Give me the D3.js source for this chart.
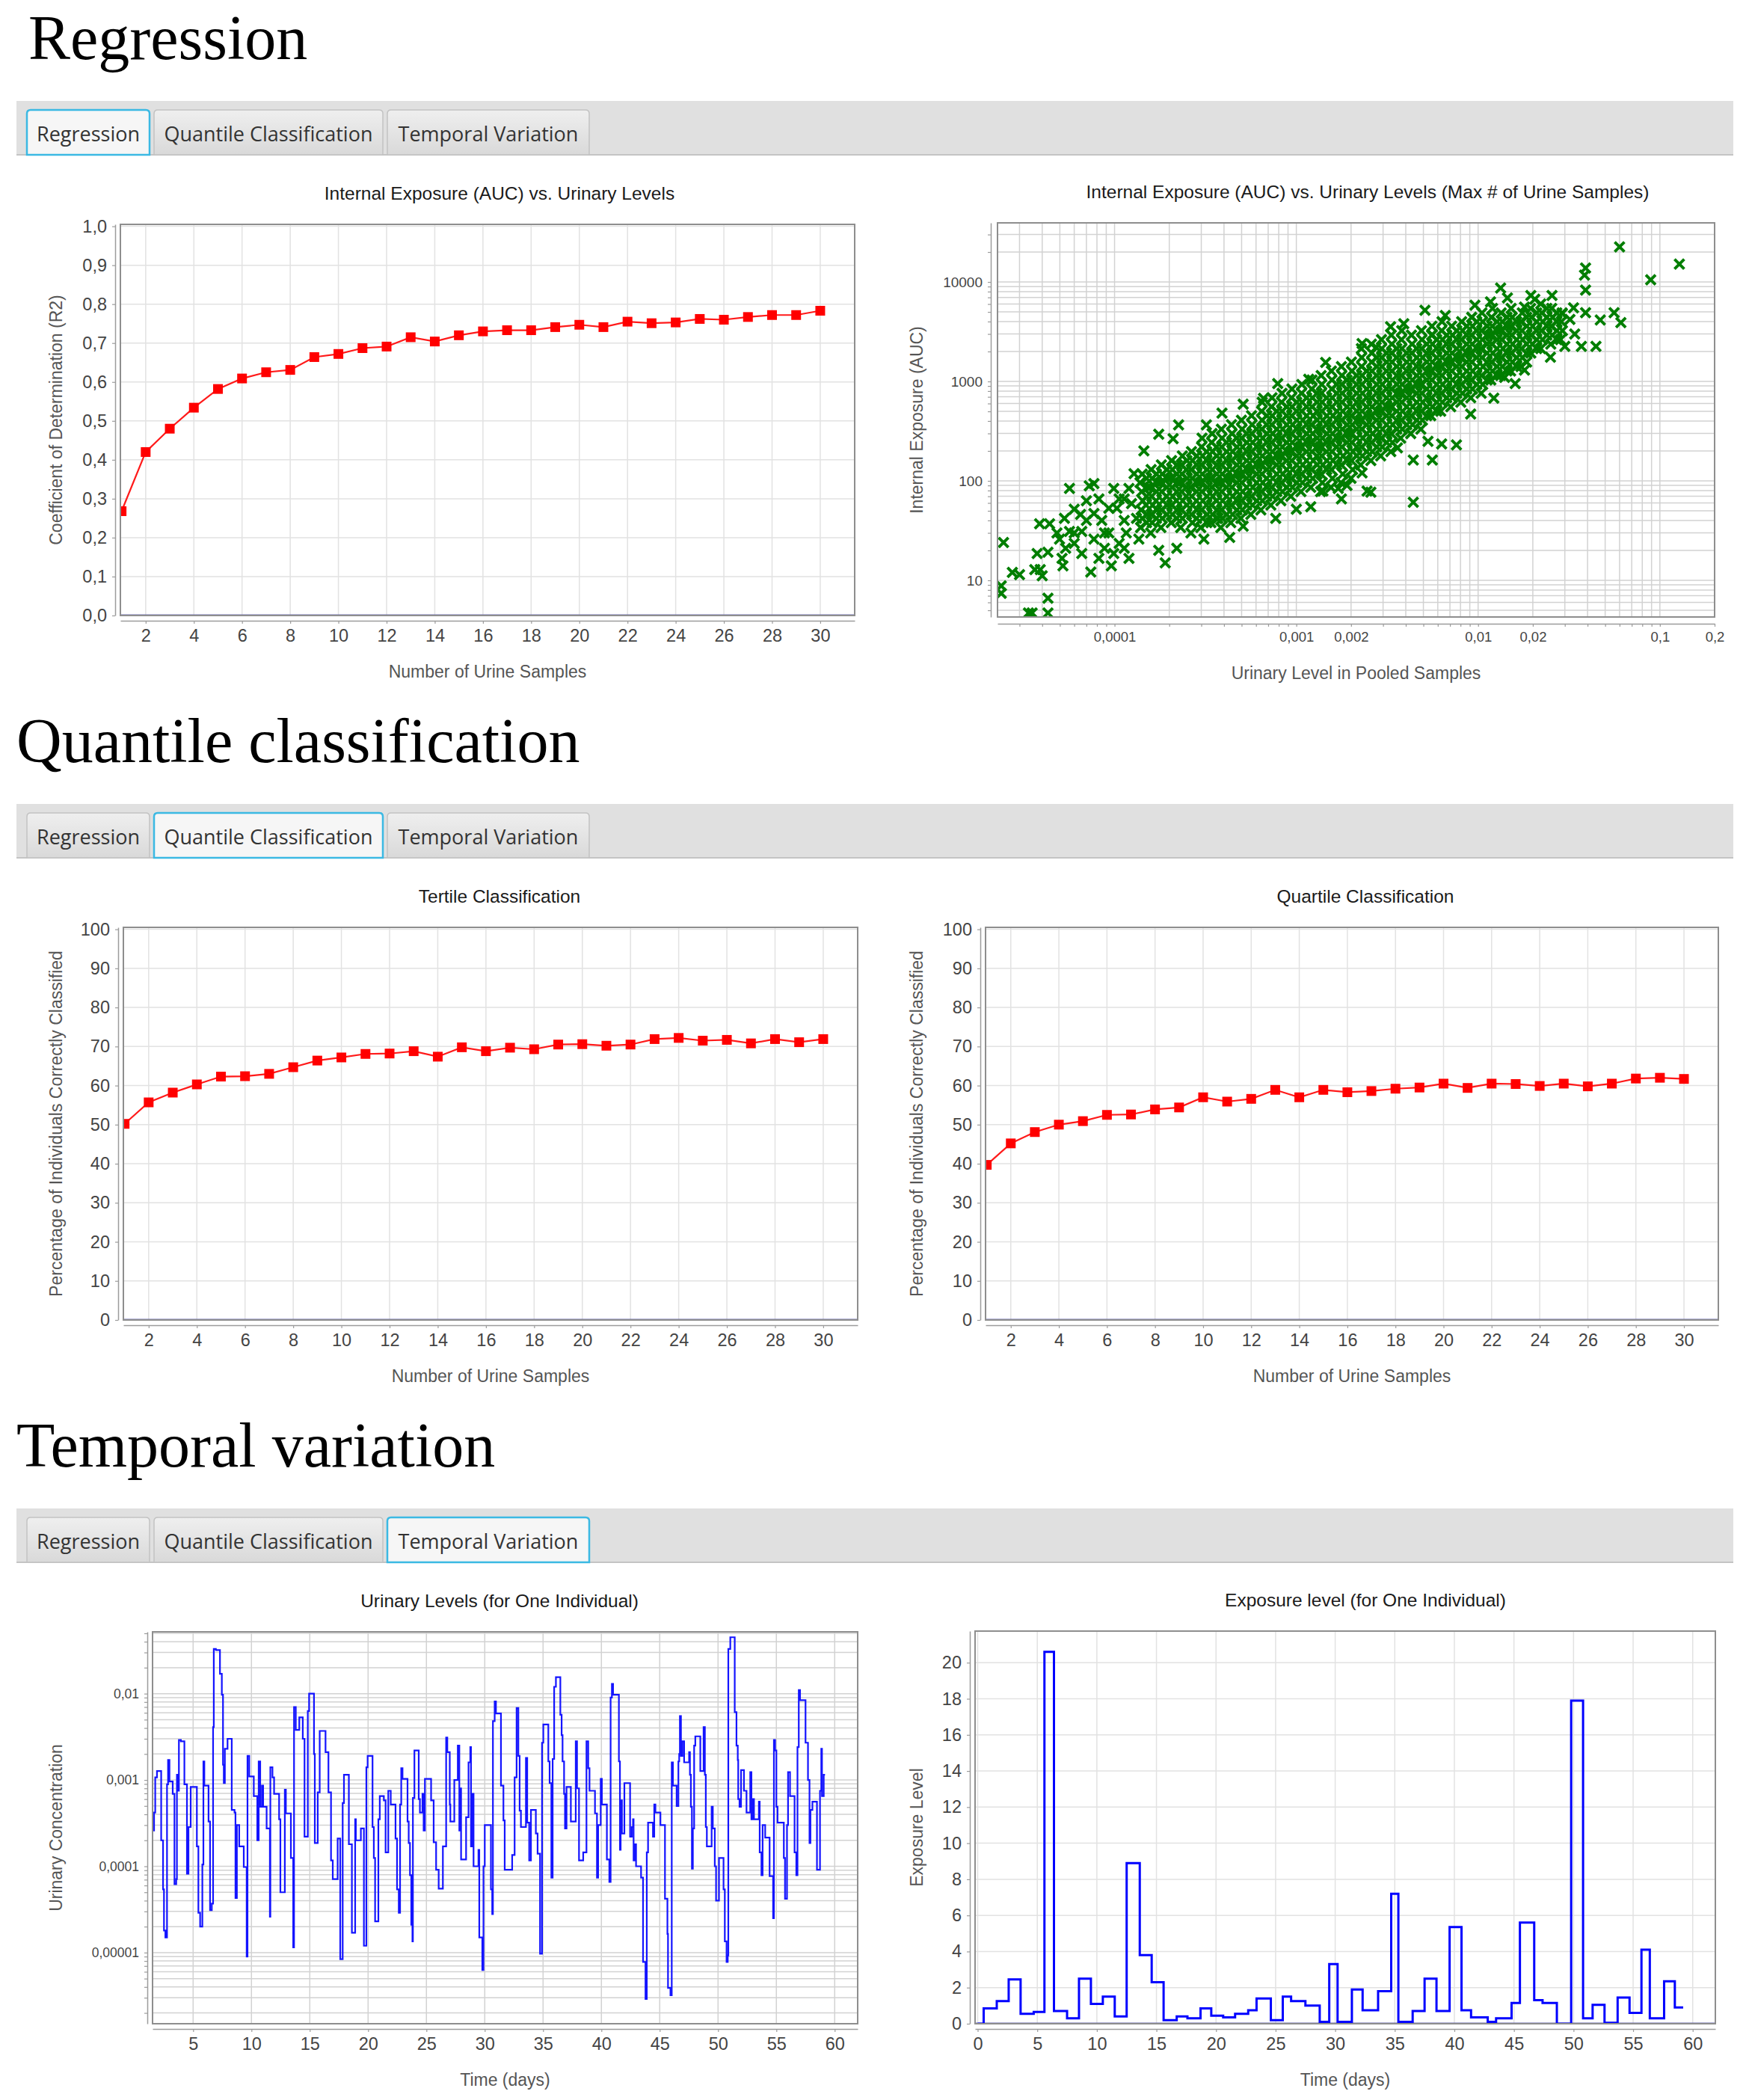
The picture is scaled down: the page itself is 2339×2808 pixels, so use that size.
<!DOCTYPE html>
<html>
<head>
<meta charset="utf-8">
<script src="https://cdn.jsdelivr.net/npm/d3@7"></script>
<style>
  body { margin: 0; background: #fff; }
  svg text { font-family: "Liberation Sans", Arial, sans-serif; }
</style>
</head>
<body>
<svg id="fig" width="2339" height="2808"></svg>
<script>
// ---------------- data ----------------
const sampleCounts = [1, 2, 3, 4, 5, 6, 7, 8, 9, 10, 11, 12, 13, 14, 15,
  16, 17, 18, 19, 20, 21, 22, 23, 24, 25, 26, 27, 28, 29, 30];

const r2Values = [0.268, 0.42, 0.48, 0.534, 0.582, 0.609, 0.625, 0.631, 0.664, 0.672,
  0.687, 0.691, 0.715, 0.704, 0.72, 0.73, 0.733, 0.733, 0.741, 0.747,
  0.741, 0.755, 0.751, 0.753, 0.762, 0.76, 0.767, 0.772, 0.772, 0.783];

const tertileValues = [50.2, 55.7, 58.2, 60.3, 62.3, 62.4, 63.0, 64.7, 66.4, 67.2,
  68.1, 68.2, 68.8, 67.4, 69.8, 68.8, 69.7, 69.3, 70.5, 70.6,
  70.2, 70.5, 71.9, 72.2, 71.5, 71.7, 70.8, 71.9, 71.1, 71.9];

const quartileValues = [39.7, 45.2, 48.1, 50.0, 50.9, 52.5, 52.6, 53.9, 54.4, 57.0,
  55.9, 56.6, 58.9, 57.0, 58.9, 58.3, 58.6, 59.2, 59.5, 60.5,
  59.4, 60.5, 60.4, 59.9, 60.5, 59.8, 60.5, 61.8, 62.0, 61.7];

// [urinary level in pooled samples, internal exposure (AUC)]
const scatterPoints = [
  // sparse lower-left tail
  [2.45e-5,24],[2.38e-5,8.8],[2.38e-5,7.4],[2.74e-5,12],[3.0e-5,11.4],[3.36e-5,4.7],[3.52e-5,4.7],
  [4.3e-5,4.7],[4.3e-5,6.6],[3.64e-5,12.8],[4.0e-5,11.1],[3.9e-5,12.8],[3.87e-5,37],[4.39e-5,37],
  [3.75e-5,18.6],[4.3e-5,19.2],[4.98e-5,26],[5.3e-5,42],[4.82e-5,30],[5.38e-5,21],[5.65e-5,31],
  [6.0e-5,23.5],[5.14e-5,16.6],[5.2e-5,14],[5.65e-5,84],[6.5e-5,46],[6.0e-5,30],[6.6e-5,18.6],
  [7.4e-5,12.1],[7.26e-5,89],[7.7e-5,94],[7.0e-5,63],[7.7e-5,47],[8.2e-5,66],[8.5e-5,40],
  [8.8e-5,21],[8.2e-5,16.6],[9.6e-5,14],[9.3e-5,30],[1.03e-4,53],[9.9e-5,84],[1.06e-4,66],
  [1.13e-4,40],[1.06e-4,23.5],[1.2e-4,16.6],[1.16e-4,30],[1.28e-4,118],[1.24e-4,59],[1.32e-4,42],
  [1.36e-4,26],[9.9e-5,18.6],[1.2e-4,84],[8.8e-5,30],[7.0e-5,40],[6.0e-5,52],[9.3e-5,53],
  [7.7e-5,26],[6.6e-5,31],[1.13e-4,66],[1.13e-4,21],
  // dense band
  [1.39e-4,34],[1.42e-4,42],[1.40e-4,51],[1.43e-4,63],[1.41e-4,78],[1.38e-4,96],[1.42e-4,117],
  [1.58e-4,30],[1.61e-4,38],[1.59e-4,46],[1.62e-4,57],[1.60e-4,70],[1.57e-4,86],[1.61e-4,106],[1.59e-4,130],
  [1.80e-4,34],[1.83e-4,42],[1.81e-4,51],[1.84e-4,63],[1.82e-4,78],[1.79e-4,96],[1.83e-4,117],[1.81e-4,145],
  [2.05e-4,38],[2.08e-4,46],[2.06e-4,57],[2.09e-4,70],[2.07e-4,86],[2.04e-4,106],[2.08e-4,130],[2.06e-4,160],
  [2.31e-4,34],[2.36e-4,42],[2.33e-4,51],[2.37e-4,63],[2.34e-4,78],[2.30e-4,96],[2.35e-4,117],[2.33e-4,145],[2.36e-4,178],
  [2.63e-4,30],[2.68e-4,38],[2.65e-4,46],[2.69e-4,57],[2.66e-4,70],[2.62e-4,86],[2.67e-4,106],[2.64e-4,130],[2.68e-4,160],[2.65e-4,197],
  [2.98e-4,34],[3.05e-4,42],[3.01e-4,51],[3.06e-4,63],[3.02e-4,78],[2.97e-4,96],[3.04e-4,117],[3.00e-4,145],[3.05e-4,178],[3.01e-4,219],[3.03e-4,269],
  [3.39e-4,38],[3.46e-4,46],[3.41e-4,57],[3.47e-4,70],[3.43e-4,86],[3.38e-4,106],[3.45e-4,130],[3.41e-4,160],[3.46e-4,197],[3.42e-4,243],[3.44e-4,299],
  [3.84e-4,34],[3.92e-4,42],[3.87e-4,51],[3.93e-4,63],[3.89e-4,78],[3.83e-4,96],[3.91e-4,117],[3.86e-4,145],[3.92e-4,178],[3.88e-4,219],[3.90e-4,269],[3.87e-4,331],
  [4.36e-4,38],[4.46e-4,46],[4.39e-4,57],[4.47e-4,70],[4.42e-4,86],[4.35e-4,106],[4.45e-4,130],[4.39e-4,160],[4.46e-4,197],[4.41e-4,243],[4.43e-4,299],[4.40e-4,367],
  [4.95e-4,42],[5.05e-4,51],[4.98e-4,63],[5.07e-4,78],[5.01e-4,96],[4.94e-4,117],[5.04e-4,145],[4.98e-4,178],[5.06e-4,219],[5.00e-4,269],[5.03e-4,331],[4.99e-4,407],
  [5.62e-4,46],[5.74e-4,57],[5.66e-4,70],[5.76e-4,86],[5.69e-4,106],[5.61e-4,130],[5.73e-4,160],[5.66e-4,197],[5.75e-4,243],[5.68e-4,299],[5.71e-4,367],[5.67e-4,452],
  [6.38e-4,51],[6.51e-4,63],[6.42e-4,78],[6.54e-4,96],[6.46e-4,117],[6.37e-4,145],[6.50e-4,178],[6.43e-4,219],[6.53e-4,269],[6.45e-4,331],[6.48e-4,407],[6.44e-4,501],[6.49e-4,617],
  [7.24e-4,57],[7.39e-4,70],[7.29e-4,86],[7.42e-4,106],[7.33e-4,130],[7.23e-4,160],[7.38e-4,197],[7.29e-4,243],[7.41e-4,299],[7.32e-4,367],[7.36e-4,452],[7.30e-4,556],[7.35e-4,684],
  [8.22e-4,63],[8.39e-4,78],[8.27e-4,96],[8.42e-4,117],[8.32e-4,145],[8.20e-4,178],[8.38e-4,219],[8.27e-4,269],[8.41e-4,331],[8.31e-4,407],[8.35e-4,501],[8.29e-4,617],[8.34e-4,759],
  [9.32e-4,70],[9.52e-4,86],[9.38e-4,106],[9.55e-4,130],[9.44e-4,160],[9.31e-4,197],[9.50e-4,243],[9.39e-4,299],[9.54e-4,367],[9.43e-4,452],[9.47e-4,556],[9.41e-4,684],[9.46e-4,841],
  [1.06e-3,78],[1.08e-3,96],[1.065e-3,117],[1.085e-3,145],[1.07e-3,178],[1.055e-3,219],[1.08e-3,269],[1.065e-3,331],[1.085e-3,407],[1.07e-3,501],[1.075e-3,617],[1.068e-3,759],[1.072e-3,933],
  [1.20e-3,86],[1.23e-3,106],[1.21e-3,130],[1.24e-3,160],[1.22e-3,197],[1.20e-3,243],[1.23e-3,299],[1.21e-3,367],[1.24e-3,452],[1.22e-3,556],[1.225e-3,684],[1.215e-3,841],[1.22e-3,1035],
  [1.36e-3,78],[1.39e-3,96],[1.37e-3,117],[1.40e-3,145],[1.38e-3,178],[1.36e-3,219],[1.39e-3,269],[1.37e-3,331],[1.40e-3,407],[1.38e-3,501],[1.385e-3,617],[1.375e-3,759],[1.38e-3,933],[1.37e-3,1148],
  [1.55e-3,86],[1.58e-3,106],[1.56e-3,130],[1.59e-3,160],[1.57e-3,197],[1.55e-3,243],[1.58e-3,299],[1.56e-3,367],[1.59e-3,452],[1.57e-3,556],[1.575e-3,684],[1.565e-3,841],[1.57e-3,1035],[1.56e-3,1274],
  [1.76e-3,96],[1.80e-3,117],[1.77e-3,145],[1.81e-3,178],[1.78e-3,219],[1.76e-3,269],[1.79e-3,331],[1.77e-3,407],[1.80e-3,501],[1.78e-3,617],[1.785e-3,759],[1.775e-3,933],[1.78e-3,1148],[1.77e-3,1413],
  [2.00e-3,106],[2.04e-3,130],[2.01e-3,160],[2.05e-3,197],[2.02e-3,243],[1.99e-3,299],[2.03e-3,367],[2.01e-3,452],[2.04e-3,556],[2.02e-3,684],[2.025e-3,841],[2.015e-3,1035],[2.02e-3,1274],[2.01e-3,1567],
  [2.26e-3,145],[2.31e-3,178],[2.28e-3,219],[2.32e-3,269],[2.29e-3,331],[2.26e-3,407],[2.30e-3,501],[2.28e-3,617],[2.31e-3,759],[2.29e-3,933],[2.295e-3,1148],[2.285e-3,1413],[2.29e-3,1738],[2.28e-3,2138],
  [2.57e-3,160],[2.62e-3,197],[2.59e-3,243],[2.63e-3,299],[2.60e-3,367],[2.57e-3,452],[2.61e-3,556],[2.59e-3,684],[2.62e-3,841],[2.60e-3,1035],[2.605e-3,1274],[2.595e-3,1567],[2.60e-3,1928],[2.59e-3,2371],
  [2.91e-3,178],[2.97e-3,219],[2.93e-3,269],[2.98e-3,331],[2.95e-3,407],[2.91e-3,501],[2.96e-3,617],[2.94e-3,759],[2.97e-3,933],[2.95e-3,1148],[2.955e-3,1413],[2.945e-3,1738],[2.95e-3,2138],[2.94e-3,2630],
  [3.31e-3,197],[3.38e-3,243],[3.33e-3,299],[3.39e-3,367],[3.35e-3,452],[3.30e-3,556],[3.37e-3,684],[3.34e-3,841],[3.38e-3,1035],[3.35e-3,1274],[3.36e-3,1567],[3.34e-3,1928],[3.35e-3,2371],[3.33e-3,2917],
  [3.75e-3,269],[3.83e-3,331],[3.78e-3,407],[3.84e-3,501],[3.80e-3,617],[3.74e-3,759],[3.82e-3,933],[3.78e-3,1148],[3.83e-3,1413],[3.80e-3,1738],[3.81e-3,2138],[3.79e-3,2630],[3.80e-3,3236],
  [4.26e-3,299],[4.36e-3,367],[4.29e-3,452],[4.37e-3,556],[4.32e-3,684],[4.25e-3,841],[4.35e-3,1035],[4.30e-3,1274],[4.36e-3,1567],[4.31e-3,1928],[4.33e-3,2371],[4.30e-3,2917],
  [4.84e-3,331],[4.94e-3,407],[4.87e-3,501],[4.96e-3,617],[4.90e-3,759],[4.83e-3,933],[4.93e-3,1148],[4.88e-3,1413],[4.95e-3,1738],[4.89e-3,2138],[4.91e-3,2630],[4.88e-3,3236],
  [5.49e-3,452],[5.61e-3,556],[5.53e-3,684],[5.62e-3,841],[5.56e-3,1035],[5.48e-3,1274],[5.60e-3,1567],[5.53e-3,1928],[5.61e-3,2371],[5.55e-3,2917],[5.57e-3,3589],
  [6.23e-3,501],[6.36e-3,617],[6.27e-3,759],[6.38e-3,933],[6.31e-3,1148],[6.22e-3,1413],[6.35e-3,1738],[6.28e-3,2138],[6.37e-3,2630],[6.30e-3,3236],[6.33e-3,3981],
  [7.07e-3,556],[7.22e-3,684],[7.12e-3,841],[7.24e-3,1035],[7.16e-3,1274],[7.05e-3,1567],[7.20e-3,1928],[7.12e-3,2371],[7.23e-3,2917],[7.15e-3,3589],
  [8.03e-3,617],[8.20e-3,759],[8.08e-3,933],[8.22e-3,1148],[8.13e-3,1413],[8.01e-3,1738],[8.18e-3,2138],[8.09e-3,2630],[8.21e-3,3236],[8.12e-3,3981],
  [9.11e-3,684],[9.31e-3,841],[9.17e-3,1035],[9.34e-3,1274],[9.23e-3,1567],[9.10e-3,1928],[9.29e-3,2371],[9.18e-3,2917],[9.32e-3,3589],[9.22e-3,4416],
  [1.04e-2,759],[1.06e-2,933],[1.045e-2,1148],[1.065e-2,1413],[1.05e-2,1738],[1.035e-2,2138],[1.055e-2,2630],[1.045e-2,3236],[1.06e-2,3981],[1.05e-2,4898],
  [1.175e-2,1035],[1.20e-2,1274],[1.185e-2,1567],[1.205e-2,1928],[1.19e-2,2371],[1.17e-2,2917],[1.195e-2,3589],[1.185e-2,4416],[1.20e-2,5433],
  [1.33e-2,1148],[1.36e-2,1413],[1.34e-2,1738],[1.37e-2,2138],[1.35e-2,2630],[1.33e-2,3236],[1.36e-2,3981],[1.34e-2,4898],
  [1.51e-2,1274],[1.545e-2,1567],[1.52e-2,1928],[1.55e-2,2371],[1.53e-2,2917],[1.51e-2,3589],[1.54e-2,4416],[1.52e-2,5433],
  [1.72e-2,1413],[1.755e-2,1738],[1.73e-2,2138],[1.76e-2,2630],[1.74e-2,3236],[1.72e-2,3981],[1.75e-2,4898],
  [1.95e-2,1928],[1.99e-2,2371],[1.96e-2,2917],[1.995e-2,3589],[1.97e-2,4416],[1.945e-2,5433],
  [2.21e-2,2138],[2.26e-2,2630],[2.23e-2,3236],[2.27e-2,3981],[2.24e-2,4898],[2.21e-2,6026],
  [2.51e-2,2371],[2.56e-2,2917],[2.53e-2,3589],[2.57e-2,4416],[2.54e-2,5433],
  [2.84e-2,2630],[2.91e-2,3236],[2.87e-2,3981],[2.90e-2,4898],
  // scattered points around the band
  [1.45e-4,200],[1.75e-4,295],[2.25e-4,365],[2.1e-4,265],[3.2e-4,365],[3.9e-4,480],[5.1e-4,590],
  [6.6e-4,675],[7.9e-4,950],[1.17e-3,1050],[1.45e-3,1550],
  [1.9e-4,15],[2.2e-4,21],[1.75e-4,20],[3.1e-4,26],[4.3e-4,27],[3.7e-4,42],[5.1e-4,35],[7.7e-4,42],
  [1.0e-3,52],[1.2e-3,55],[1.77e-3,66],[2.45e-3,79],[1.7e-3,84],[1.4e-3,79],
  [2.3e-3,2400],[2.75e-3,2200],[3.3e-3,3550],[3.9e-3,3800],[5.1e-3,5200],[5.6e-3,2950],[6.6e-3,4600],
  [9.6e-3,5850],[1.17e-2,6300],[1.33e-2,8700],[1.45e-2,6900],[1.95e-2,7300],[2.05e-2,6700],[2.55e-2,7300],
  [1.8e-2,5600],[2.9e-2,4800],[3.2e-2,4200],[3.35e-2,5500],[3.4e-2,3000],[3.9e-2,4900],[4.7e-2,4150],
  [5.6e-2,4900],[6.1e-2,3900],[3.0e-2,2250],[3.7e-2,2250],[4.45e-2,2250],[2.5e-2,1750],
  [3.9e-2,13800],[3.85e-2,11700],[3.9e-2,8300],[6.0e-2,22500],[0.128,15100],[0.089,10500],
  [7.6e-3,230],[6.3e-3,235],[5.6e-3,162],[4.4e-3,162],[4.4e-3,61],[2.57e-3,77],[9.1e-3,470],
  [1.22e-2,680],[1.6e-2,950],[1.4e-2,1100],[1.8e-2,1300],[5.3e-3,250],[3.6e-3,215],[2.3e-3,120],[1.9e-3,90]
];

// extra points inside the solid core of the cloud
const scatterCorePoints = [
  [1.50e-4,38],[1.51e-4,46],[1.49e-4,57],[1.50e-4,70],[1.52e-4,86],[1.50e-4,106],
  [1.70e-4,42],[1.71e-4,51],[1.69e-4,63],[1.70e-4,78],[1.72e-4,96],[1.70e-4,117],
  [1.94e-4,46],[1.95e-4,57],[1.93e-4,70],[1.94e-4,86],[1.96e-4,106],[1.94e-4,130],
  [2.20e-4,42],[2.21e-4,51],[2.19e-4,63],[2.20e-4,78],[2.22e-4,96],[2.20e-4,117],[2.21e-4,145],
  [2.49e-4,46],[2.50e-4,57],[2.48e-4,70],[2.49e-4,86],[2.51e-4,106],[2.49e-4,130],[2.50e-4,160],
  [2.83e-4,42],[2.84e-4,51],[2.82e-4,63],[2.83e-4,78],[2.85e-4,96],[2.83e-4,117],[2.84e-4,145],[2.83e-4,178],
  [3.22e-4,38],[3.23e-4,46],[3.21e-4,57],[3.22e-4,70],[3.24e-4,86],[3.22e-4,106],[3.23e-4,130],[3.22e-4,160],[3.21e-4,197],
  [3.65e-4,42],[3.66e-4,51],[3.64e-4,63],[3.65e-4,78],[3.67e-4,96],[3.65e-4,117],[3.66e-4,145],[3.65e-4,178],[3.64e-4,219],
  [4.14e-4,46],[4.15e-4,57],[4.13e-4,70],[4.14e-4,86],[4.16e-4,106],[4.14e-4,130],[4.15e-4,160],[4.14e-4,197],[4.13e-4,243],
  [4.71e-4,51],[4.72e-4,63],[4.70e-4,78],[4.71e-4,96],[4.73e-4,117],[4.71e-4,145],[4.72e-4,178],[4.71e-4,219],[4.70e-4,269],
  [5.34e-4,57],[5.35e-4,70],[5.33e-4,86],[5.34e-4,106],[5.36e-4,130],[5.34e-4,160],[5.35e-4,197],[5.34e-4,243],[5.33e-4,299],
  [6.06e-4,63],[6.07e-4,78],[6.05e-4,96],[6.06e-4,117],[6.08e-4,145],[6.06e-4,178],[6.07e-4,219],[6.06e-4,269],[6.05e-4,331],
  [6.88e-4,70],[6.89e-4,86],[6.87e-4,106],[6.88e-4,130],[6.90e-4,160],[6.88e-4,197],[6.89e-4,243],[6.88e-4,299],[6.87e-4,367],[6.88e-4,452],
  [7.81e-4,78],[7.82e-4,96],[7.80e-4,117],[7.81e-4,145],[7.83e-4,178],[7.81e-4,219],[7.82e-4,269],[7.81e-4,331],[7.80e-4,407],[7.81e-4,501],
  [8.86e-4,86],[8.87e-4,106],[8.85e-4,130],[8.86e-4,160],[8.88e-4,197],[8.86e-4,243],[8.87e-4,299],[8.86e-4,367],[8.85e-4,452],[8.86e-4,556],
  [1.005e-3,96],[1.006e-3,117],[1.004e-3,145],[1.005e-3,178],[1.007e-3,219],[1.005e-3,269],[1.006e-3,331],[1.005e-3,407],[1.004e-3,501],[1.005e-3,617],
  [1.14e-3,106],[1.142e-3,130],[1.138e-3,160],[1.14e-3,197],[1.143e-3,243],[1.14e-3,299],[1.141e-3,367],[1.14e-3,452],[1.139e-3,556],[1.14e-3,684],
  [1.30e-3,117],[1.302e-3,145],[1.298e-3,178],[1.30e-3,219],[1.303e-3,269],[1.30e-3,331],[1.301e-3,407],[1.30e-3,501],[1.299e-3,617],[1.30e-3,759],
  [1.47e-3,130],[1.472e-3,160],[1.468e-3,197],[1.47e-3,243],[1.473e-3,299],[1.47e-3,367],[1.471e-3,452],[1.47e-3,556],[1.469e-3,684],
  [1.67e-3,145],[1.672e-3,178],[1.668e-3,219],[1.67e-3,269],[1.673e-3,331],[1.67e-3,407],[1.671e-3,501],[1.67e-3,617],[1.669e-3,759],[1.67e-3,933],
  [1.90e-3,160],[1.902e-3,197],[1.898e-3,243],[1.90e-3,299],[1.903e-3,367],[1.90e-3,452],[1.901e-3,556],[1.90e-3,684],[1.899e-3,841],[1.90e-3,1035],
  [2.15e-3,178],[2.152e-3,219],[2.148e-3,269],[2.15e-3,331],[2.153e-3,407],[2.15e-3,501],[2.151e-3,617],[2.15e-3,759],[2.149e-3,933],[2.15e-3,1148],
  [2.44e-3,197],[2.442e-3,243],[2.438e-3,299],[2.44e-3,367],[2.443e-3,452],[2.44e-3,556],[2.441e-3,684],[2.44e-3,841],[2.439e-3,1035],[2.44e-3,1274],
  [2.77e-3,219],[2.772e-3,269],[2.768e-3,331],[2.77e-3,407],[2.773e-3,501],[2.77e-3,617],[2.771e-3,759],[2.77e-3,933],[2.769e-3,1148],[2.77e-3,1413],[2.77e-3,1738],
  [3.14e-3,243],[3.142e-3,299],[3.138e-3,367],[3.14e-3,452],[3.143e-3,556],[3.14e-3,684],[3.141e-3,841],[3.14e-3,1035],[3.139e-3,1274],[3.14e-3,1567],[3.14e-3,1928],
  [3.57e-3,331],[3.572e-3,407],[3.568e-3,501],[3.57e-3,617],[3.573e-3,759],[3.57e-3,933],[3.571e-3,1148],[3.57e-3,1413],[3.569e-3,1738],[3.57e-3,2138],
  [4.05e-3,367],[4.052e-3,452],[4.048e-3,556],[4.05e-3,684],[4.053e-3,841],[4.05e-3,1035],[4.051e-3,1274],[4.05e-3,1567],[4.049e-3,1928],
  [4.60e-3,407],[4.602e-3,501],[4.598e-3,617],[4.60e-3,759],[4.603e-3,933],[4.60e-3,1148],[4.601e-3,1413],[4.60e-3,1738],[4.599e-3,2138],
  [5.22e-3,452],[5.222e-3,556],[5.218e-3,684],[5.22e-3,841],[5.223e-3,1035],[5.22e-3,1274],[5.221e-3,1567],[5.22e-3,1928],[5.219e-3,2371],
  [5.92e-3,501],[5.922e-3,617],[5.918e-3,759],[5.92e-3,933],[5.923e-3,1148],[5.92e-3,1413],[5.921e-3,1738],[5.92e-3,2138],[5.919e-3,2630],
  [6.72e-3,684],[6.722e-3,841],[6.718e-3,1035],[6.72e-3,1274],[6.723e-3,1567],[6.72e-3,1928],[6.721e-3,2371],[6.72e-3,2917],
  [7.63e-3,759],[7.632e-3,933],[7.628e-3,1148],[7.63e-3,1413],[7.633e-3,1738],[7.63e-3,2138],[7.631e-3,2630],[7.63e-3,3236],
  [8.66e-3,841],[8.662e-3,1035],[8.658e-3,1274],[8.66e-3,1567],[8.663e-3,1928],[8.66e-3,2371],[8.661e-3,2917],[8.66e-3,3589],
  [9.83e-3,933],[9.832e-3,1148],[9.828e-3,1413],[9.83e-3,1738],[9.833e-3,2138],[9.83e-3,2630],[9.831e-3,3236],[9.83e-3,3981],
  [1.12e-2,1035],[1.121e-2,1274],[1.119e-2,1567],[1.12e-2,1928],[1.122e-2,2371],[1.12e-2,2917],[1.121e-2,3589],
  [1.27e-2,1148],[1.271e-2,1413],[1.269e-2,1738],[1.27e-2,2138],[1.272e-2,2630],[1.27e-2,3236],[1.271e-2,3981],
  [1.44e-2,1274],[1.441e-2,1567],[1.439e-2,1928],[1.44e-2,2371],[1.442e-2,2917],[1.44e-2,3589],[1.441e-2,4416],
  [1.63e-2,1413],[1.631e-2,1738],[1.629e-2,2138],[1.63e-2,2630],[1.632e-2,3236],[1.63e-2,3981],
  [1.85e-2,1567],[1.851e-2,1928],[1.849e-2,2371],[1.85e-2,2917],[1.852e-2,3589],[1.85e-2,4416],
  [2.10e-2,2138],[2.101e-2,2630],[2.099e-2,3236],[2.10e-2,3981],[2.102e-2,4898],
  [2.39e-2,2917],[2.391e-2,3589],[2.389e-2,4416],[2.39e-2,5433],
  [2.71e-2,2630],[2.711e-2,3236],[2.709e-2,3981],[2.71e-2,4898]
];

// [time (days), urinary concentration], step line
const urineSamples = [
  [1.58,2.6e-4],[1.65,4.2e-4],[1.75,1.07e-3],[1.90,1.27e-3],[2.26,2.0e-4],[2.42,5.4e-5],[2.50,1.8e-5],
  [2.62,1.5e-5],[2.76,8.9e-4],[2.85,1.7e-3],[2.97,9.6e-4],[3.25,6.9e-4],[3.40,6.2e-5],[3.55,7.1e-5],
  [3.61,1.15e-3],[3.70,7.5e-4],[3.78,2.9e-3],[3.95,2.8e-3],[4.25,8.9e-4],[4.47,8.2e-5],[4.60,2.85e-4],
  [4.79,8.3e-4],[5.32,1.7e-4],[5.45,2.9e-5],[5.60,2.0e-5],[5.79,1.05e-4],[5.88,1.64e-3],[5.96,8.6e-4],
  [6.32,3.3e-4],[6.45,3.1e-5],[6.60,3.7e-5],[6.71,4.1e-3],[6.77,3.3e-2],[6.95,3.2e-2],[7.30,1.7e-2],
  [7.46,9.7e-3],[7.56,1.5e-3],[7.63,9.2e-4],[7.72,2.3e-3],[7.95,3.0e-3],[8.31,4.5e-4],[8.55,4.2e-4],
  [8.63,4.3e-5],[8.75,3.0e-4],[8.95,1.7e-4],[9.34,9.8e-5],[9.59,9.0e-6],[9.66,1.9e-3],[9.81,1.1e-3],
  [10.2,6.5e-4],[10.5,2.0e-4],[10.62,1.64e-3],[10.75,4.9e-4],[10.9,8.6e-4],[11.0,4.9e-4],[11.30,2.75e-4],
  [11.58,2.6e-5],[11.62,1.4e-3],[11.8,1.07e-3],[11.94,6.9e-4],[12.37,3.5e-4],[12.48,5.0e-5],[12.86,7.7e-4],
  [12.95,4.1e-4],[13.38,1.25e-4],[13.58,1.15e-5],[13.65,7.0e-3],[13.80,3.8e-3],[14.1,5.3e-3],[14.40,3.0e-3],
  [14.55,2.2e-4],[14.83,6.3e-3],[14.94,1.0e-2],[15.36,2.0e-3],[15.43,1.86e-4],[15.68,7.2e-4],[15.85,3.7e-3],
  [16.35,2.1e-3],[16.60,7.2e-4],[16.82,1.17e-4],[16.97,7.1e-5],[17.39,2.1e-4],[17.61,8.4e-6],[17.82,5.4e-4],
  [17.93,1.15e-3],[18.35,1.8e-4],[18.61,1.7e-5],[18.89,3.5e-4],[18.95,2.0e-4],[19.38,2.75e-4],[19.64,1.2e-5],
  [19.85,1.4e-3],[19.96,1.9e-3],[20.38,2.85e-4],[20.49,1.25e-4],[20.60,2.3e-5],[20.88,3.5e-4],[21.0,6.5e-4],
  [21.35,5.8e-4],[21.50,1.45e-4],[21.73,7.5e-4],[21.94,5.2e-4],[22.35,2.1e-4],[22.48,5.4e-5],[22.63,2.9e-5],
  [22.74,5.2e-4],[22.84,1.37e-3],[22.95,1.03e-3],[23.38,3.3e-4],[23.48,1.86e-4],[23.59,7.9e-5],[23.70,2.1e-5],
  [23.80,1.35e-5],[23.84,6.2e-4],[23.97,2.2e-3],[24.34,6.0e-4],[24.44,4.2e-4],[24.66,6.9e-4],[24.76,2.6e-4],
  [24.87,1.03e-3],[25.40,5.8e-4],[25.62,1.9e-4],[25.83,9.1e-5],[26.05,5.5e-5],[26.41,1.7e-4],[26.69,3.1e-3],
  [26.79,2.1e-3],[27.00,5.2e-4],[27.05,3.3e-4],[27.39,1.0e-3],[27.69,2.5e-3],[27.82,2.6e-4],[27.91,8.0e-4],
  [27.97,1.2e-4],[28.40,3.7e-4],[28.61,1.6e-3],[28.76,2.4e-3],[28.82,1.7e-4],[28.93,6.9e-4],[29.04,1.0e-4],
  [29.46,1.55e-4],[29.53,1.5e-5],[29.79,6.3e-6],[29.89,1.0e-4],[30.0,3.0e-4],[30.53,5.4e-5],[30.64,2.8e-5],
  [30.70,4.8e-3],[30.85,8.1e-3],[30.96,5.9e-3],[31.39,8.6e-4],[31.60,3.4e-4],[31.71,9.1e-5],[32.35,1.35e-4],
  [32.56,1.07e-3],[32.73,6.8e-3],[32.88,1.9e-3],[32.99,4.4e-4],[33.10,2.85e-4],[33.53,1.8e-3],[33.64,3.2e-4],
  [33.81,1.17e-4],[33.96,4.5e-4],[34.38,2.4e-4],[34.53,1.4e-4],[34.74,9.7e-6],[34.91,2.7e-3],[35.02,4.4e-3],
  [35.45,1.64e-3],[35.56,9.2e-4],[35.71,7.4e-5],[35.82,1.75e-3],[35.95,1.2e-2],[36.10,1.55e-2],[36.48,5.7e-3],
  [36.59,3.3e-3],[36.67,1.64e-3],[36.80,6.9e-4],[36.88,2.75e-4],[37.01,8.3e-4],[37.38,3.3e-4],[37.80,2.8e-3],
  [37.91,8.0e-4],[38.08,1.17e-4],[38.44,1.45e-4],[38.72,2.8e-3],[38.87,1.37e-3],[38.98,7.5e-4],[39.45,4.1e-4],
  [39.62,7.4e-5],[39.72,3.0e-4],[39.94,1.03e-3],[40.04,5.2e-4],[40.47,1.2e-4],[40.68,6.6e-5],[40.79,9.0e-3],
  [40.90,1.3e-2],[41.0,9.7e-3],[41.50,1.64e-3],[41.59,1.55e-4],[41.65,5.8e-4],[41.76,2.4e-4],[41.97,9.2e-4],
  [42.46,2.2e-4],[42.61,2.85e-4],[42.71,3.5e-4],[42.76,1.17e-4],[42.88,1.8e-4],[42.97,1.0e-4],[43.40,7.4e-5],
  [43.57,7.8e-6],[43.78,2.9e-6],[43.89,1.45e-4],[44.0,3.2e-4],[44.42,2.2e-4],[44.53,5.2e-4],[44.63,4.2e-4],
  [45.06,3.0e-4],[45.45,4.2e-5],[45.66,1.65e-5],[45.71,3.9e-6],[45.92,3.2e-6],[46.03,1.6e-3],[46.13,8.6e-4],
  [46.45,5.0e-4],[46.60,1.64e-3],[46.67,2.0e-3],[46.73,5.5e-3],[46.82,1.9e-3],[46.94,2.8e-3],[47.09,1.6e-3],
  [47.52,2.1e-3],[47.59,1.15e-3],[47.67,4.9e-4],[47.76,9.4e-5],[47.84,2.75e-4],[47.95,2.5e-3],[48.05,3.2e-3],
  [48.48,1.27e-3],[48.76,4.1e-3],[48.87,1.15e-3],[48.95,2.85e-4],[49.04,1.7e-4],[49.45,4.9e-4],[49.55,2.75e-4],
  [49.72,1.0e-4],[49.83,4.0e-5],[50.08,1.25e-4],[50.47,5.4e-5],[50.58,1.35e-5],[50.73,7.8e-6],[50.83,9.3e-6],
  [50.88,3.3e-2],[51.05,4.5e-2],[51.43,6.1e-3],[51.58,2.5e-3],[51.69,1.7e-3],[51.73,6.0e-4],[51.84,4.9e-4],
  [51.97,1.3e-3],[52.22,7.5e-4],[52.44,4.2e-4],[52.76,1.23e-3],[52.86,3.5e-4],[52.97,6.0e-4],[53.08,3.5e-4],
  [53.50,5.6e-4],[53.57,1.45e-4],[53.72,7.9e-5],[53.82,3.0e-4],[54.04,2.15e-4],[54.42,7.7e-5],[54.72,2.5e-5],
  [54.79,2.9e-3],[54.89,2.2e-3],[55.0,4.9e-4],[55.1,3.2e-4],[55.64,1.25e-4],[55.74,4.2e-5],[55.91,3.0e-4],
  [56.0,1.23e-3],[56.17,6.5e-4],[56.56,1.45e-4],[56.71,7.9e-5],[56.81,2.4e-3],[56.92,1.1e-2],[57.03,8.4e-3],
  [57.50,2.7e-3],[57.71,1.0e-3],[57.84,1.86e-4],[57.92,4.5e-4],[58.09,5.6e-4],[58.48,9.1e-5],[58.74,7.5e-4],
  [58.85,2.3e-3],[58.91,6.5e-4],[59.06,1.15e-3],[59.17,1.15e-3]
];

// [step start (days), exposure level]
const exposureSteps = [
  [0,0],[0.5,0.85],[1.6,1.25],[2.6,2.45],[3.6,0.55],[4.7,0.65],[5.6,20.6],[6.4,0.7],[7.5,0.3],[8.5,2.5],
  [9.5,1.1],[10.5,1.5],[11.5,0.4],[12.5,8.9],[13.6,3.8],[14.6,2.3],[15.6,0.2],[16.7,0.4],[17.6,0.3],[18.7,0.85],
  [19.6,0.45],[20.6,0.35],[21.6,0.55],[22.7,0.75],[23.4,1.4],[24.6,0.2],[25.6,1.5],[26.3,1.25],[27.5,1.0],[28.7,0.1],
  [29.5,3.3],[30.2,0.1],[31.4,1.9],[32.3,0.75],[33.6,1.8],[34.7,7.2],[35.3,0.1],[36.5,0.7],[37.5,2.5],[38.5,0.7],
  [39.6,5.35],[40.6,0.75],[41.4,0.35],[42.8,0.1],[43.5,0.3],[44.8,1.15],[45.5,5.6],[46.7,1.3],[47.4,1.15],[48.6,0],
  [49.8,17.9],[50.8,0.3],[51.6,1.05],[52.6,0.05],[53.7,1.45],[54.7,0.6],[55.7,4.1],[56.4,0.3],[57.6,2.35],[58.5,0.9]
];
const exposureEnd = 59.2;

// tick values
const sampleTicks = [2, 4, 6, 8, 10, 12, 14, 16, 18, 20, 22, 24, 26, 28, 30];
const r2Ticks = [0, 0.1, 0.2, 0.3, 0.4, 0.5, 0.6, 0.7, 0.8, 0.9, 1.0];
const percentTicks = [0, 10, 20, 30, 40, 50, 60, 70, 80, 90, 100];
const urinaryLevelLabels = [0.0001, 0.001, 0.002, 0.01, 0.02, 0.1, 0.2];
const aucLabels = [10, 100, 1000, 10000];
const concentrationLabels = [0.00001, 0.0001, 0.001, 0.01];
const dayTicks = [5, 10, 15, 20, 25, 30, 35, 40, 45, 50, 55, 60];
const dayTicksFromZero = [0, 5, 10, 15, 20, 25, 30, 35, 40, 45, 50, 55, 60];
const exposureTicks = [0, 2, 4, 6, 8, 10, 12, 14, 16, 18, 20];

const sectionTitles = ["Regression", "Quantile classification", "Temporal variation"];
const tabNames = ["Regression", "Quantile Classification", "Temporal Variation"];

// ---------------- layout ----------------
const svg = d3.select("#fig");
const defs = svg.append("defs");
const tabGrad = defs.append("linearGradient").attr("id", "tabGrad")
  .attr("x1", 0).attr("y1", 0).attr("x2", 0).attr("y2", 1);
tabGrad.append("stop").attr("offset", "0%").attr("stop-color", "#efefef");
tabGrad.append("stop").attr("offset", "100%").attr("stop-color", "#d9d9d9");

const sectionOffsets = [0, 940, 1882];
const headingX = [38, 22, 22];
const tabEdges = [[36, 200], [206, 512], [518, 788]];

const commaFmt = v => String(v).replace(".", ",");

function drawSection(i) {
  const off = sectionOffsets[i];
  svg.append("text")
    .attr("x", headingX[i]).attr("y", 79 + off)
    .style("font-family", "'Liberation Serif', 'Times New Roman', serif")
    .style("font-size", "84px").attr("fill", "#000")
    .text(sectionTitles[i]);

  svg.append("rect").attr("x", 22).attr("y", 135 + off)
    .attr("width", 2296).attr("height", 72).attr("fill", "#e0e0e0");
  svg.append("line").attr("x1", 22).attr("x2", 2318)
    .attr("y1", 207 + off).attr("y2", 207 + off)
    .attr("stroke", "#c4c4c4").attr("stroke-width", 2);

  tabNames.forEach((name, k) => {
    const [x0, x1] = tabEdges[k];
    const y0 = 147 + off, y1 = 207 + off, rr = 5;
    const sel = k === i;
    svg.append("path")
      .attr("d", `M${x0},${y1} L${x0},${y0 + rr} Q${x0},${y0} ${x0 + rr},${y0} L${x1 - rr},${y0} Q${x1},${y0} ${x1},${y0 + rr} L${x1},${y1} Z`)
      .attr("fill", sel ? "#f6f6f6" : "url(#tabGrad)")
      .attr("stroke", sel ? "#3bb9e3" : "#c2c2c2")
      .attr("stroke-width", sel ? 2.5 : 1.5);
    svg.append("text")
      .attr("x", (x0 + x1) / 2).attr("y", 178 + off)
      .attr("text-anchor", "middle").attr("dominant-baseline", "central")
      .style("font-family", "'Open Sans', 'Noto Sans', sans-serif")
      .style("font-size", "27px").attr("fill", "#333")
      .text(name);
  });
}
[0, 1, 2].forEach(drawSection);

let clipCount = 0;
function styleAxis(sel, size) {
  sel.attr("font-family", null).attr("font-size", null);
  sel.select(".domain").attr("stroke", "#9c9c9c").attr("stroke-width", 1.5);
  sel.selectAll(".tick line").attr("stroke", "#9c9c9c").attr("stroke-width", 1.2);
  sel.selectAll(".tick text").attr("fill", "#444")
    .style("font-family", "'Liberation Sans', Arial, sans-serif")
    .style("font-size", size + "px");
}

function drawChart(o) {
  const { l, r, t, b } = o.box;
  const g = svg.append("g");
  const clipId = "plotclip" + (clipCount++);
  defs.append("clipPath").attr("id", clipId).append("rect")
    .attr("x", l).attr("y", t).attr("width", r - l).attr("height", b - t);

  g.append("rect").attr("x", l).attr("y", t).attr("width", r - l).attr("height", b - t)
    .attr("fill", "#fff");

  const grid = g.append("g").attr("clip-path", `url(#${clipId})`);
  grid.selectAll("line.gx").data(o.xGrid).join("line").attr("class", "gx")
    .attr("x1", d => o.x(d)).attr("x2", d => o.x(d)).attr("y1", t).attr("y2", b)
    .attr("stroke", o.gridColor).attr("stroke-width", 1.5);
  grid.selectAll("line.gy").data(o.yGrid).join("line").attr("class", "gy")
    .attr("y1", d => o.y(d)).attr("y2", d => o.y(d)).attr("x1", l).attr("x2", r)
    .attr("stroke", o.gridColor).attr("stroke-width", 1.5);

  const area = g.append("g").attr("clip-path", `url(#${clipId})`);
  o.draw(area);

  g.append("rect").attr("x", l).attr("y", t).attr("width", r - l).attr("height", b - t)
    .attr("fill", "none").attr("stroke", "#8e8e8e").attr("stroke-width", 2);

  const xAxis = d3.axisBottom(o.x).tickValues(o.xTicks).tickFormat(o.xFormat)
    .tickSize(4).tickSizeOuter(0).tickPadding(7);
  g.append("g").attr("transform", `translate(0,${b + o.axisGap})`)
    .call(xAxis).call(styleAxis, o.xFont);

  const yAxis = d3.axisLeft(o.y).tickValues(o.yTicks).tickFormat(o.yFormat)
    .tickSize(4).tickSizeOuter(0).tickPadding(7);
  g.append("g").attr("transform", `translate(${l - o.axisGap},0)`)
    .call(yAxis).call(styleAxis, o.yFont);

  g.append("text").attr("x", o.titleX).attr("y", t - 42)
    .attr("text-anchor", "middle").attr("dominant-baseline", "central")
    .style("font-size", "24.5px").attr("fill", "#1a1a1a").text(o.title);

  g.append("text").attr("x", (l + r) / 2).attr("y", b + 75)
    .attr("text-anchor", "middle").attr("dominant-baseline", "central")
    .style("font-size", "23px").attr("fill", "#555").text(o.xLabel);

  g.append("text")
    .attr("transform", `translate(${o.yLabelX},${(t + b) / 2}) rotate(-90)`)
    .attr("text-anchor", "middle").attr("dominant-baseline", "central")
    .style("font-size", "23px").attr("fill", "#555").text(o.yLabel);
}

// line + square markers
function drawRedSeries(area, x, y, values) {
  const pts = sampleCounts.map((c, i) => [c, values[i]]);
  area.append("line").attr("x1", x.range()[0]).attr("x2", x.range()[1])
    .attr("y1", y(0)).attr("y2", y(0))
    .attr("stroke", "#6a6ab4").attr("stroke-width", 3);
  area.append("path").datum(pts)
    .attr("d", d3.line().x(d => x(d[0])).y(d => y(d[1])))
    .attr("fill", "none").attr("stroke", "#ff1a1a").attr("stroke-width", 2.2);
  area.selectAll("rect.mk").data(pts).join("rect").attr("class", "mk")
    .attr("x", d => x(d[0]) - 6.5).attr("y", d => y(d[1]) - 6.5)
    .attr("width", 13).attr("height", 13).attr("fill", "#f00");
}

// ---------- Regression ----------
{
  const box = { l: 161, r: 1143, t: 300, b: 823 };
  const x = d3.scaleLinear().domain([0.95, 31.43]).range([box.l, box.r]);
  const y = d3.scaleLinear().domain([0, 1.005]).range([box.b, box.t]);
  drawChart({
    box, x, y, gridColor: "#e2e2e2",
    xGrid: sampleTicks, yGrid: r2Ticks,
    xTicks: sampleTicks, yTicks: r2Ticks,
    xFormat: d3.format("d"), yFormat: v => d3.format(".1f")(v).replace(".", ","),
    xFont: 23.5, yFont: 23.5, axisGap: 7,
    title: "Internal Exposure (AUC) vs. Urinary Levels", titleX: 668,
    xLabel: "Number of Urine Samples", yLabel: "Coefficient of Determination (R2)", yLabelX: 75,
    draw: area => drawRedSeries(area, x, y, r2Values)
  });
}
{
  const box = { l: 1334, r: 2293, t: 298, b: 825 };
  const x = d3.scaleLog().domain([2.27e-5, 0.2]).range([box.l, box.r]);
  const y = d3.scaleLog().domain([4.28, 39300]).range([box.b, box.t]);
  const xAll = x.ticks(), yAll = y.ticks();
  drawChart({
    box, x, y, gridColor: "#d2d2d2",
    xGrid: xAll, yGrid: yAll,
    xTicks: xAll, yTicks: yAll,
    xFormat: v => urinaryLevelLabels.some(u => Math.abs(u - v) / u < 1e-6) ? commaFmt(v) : "",
    yFormat: v => aucLabels.some(u => Math.abs(u - v) / u < 1e-6) ? String(v) : "",
    xFont: 18.5, yFont: 19, axisGap: 9,
    title: "Internal Exposure (AUC) vs. Urinary Levels (Max # of Urine Samples)", titleX: 1829,
    xLabel: "Urinary Level in Pooled Samples", yLabel: "Internal Exposure (AUC)", yLabelX: 1226,
    draw: area => {
      const s = 6.5;
      area.selectAll("path.pt").data(scatterPoints.concat(scatterCorePoints)).join("path").attr("class", "pt")
        .attr("d", d => {
          const px = x(d[0]), py = y(d[1]);
          return `M${px - s},${py - s}L${px + s},${py + s}M${px - s},${py + s}L${px + s},${py - s}`;
        })
        .attr("stroke", "#007e00").attr("stroke-width", 3.9).attr("fill", "none");
    }
  });
}

// ---------- Quantile classification ----------
{
  const box = { l: 165, r: 1147, t: 1240, b: 1765 };
  const x = d3.scaleLinear().domain([0.95, 31.43]).range([box.l, box.r]);
  const y = d3.scaleLinear().domain([0, 100.5]).range([box.b, box.t]);
  drawChart({
    box, x, y, gridColor: "#e2e2e2",
    xGrid: sampleTicks, yGrid: percentTicks,
    xTicks: sampleTicks, yTicks: percentTicks,
    xFormat: d3.format("d"), yFormat: d3.format("d"),
    xFont: 23.5, yFont: 23.5, axisGap: 7,
    title: "Tertile Classification", titleX: 668,
    xLabel: "Number of Urine Samples", yLabel: "Percentage of Individuals Correctly Classified", yLabelX: 75,
    draw: area => drawRedSeries(area, x, y, tertileValues)
  });
}
{
  const box = { l: 1318, r: 2298, t: 1240, b: 1765 };
  const x = d3.scaleLinear().domain([0.95, 31.43]).range([box.l, box.r]);
  const y = d3.scaleLinear().domain([0, 100.5]).range([box.b, box.t]);
  drawChart({
    box, x, y, gridColor: "#e2e2e2",
    xGrid: sampleTicks, yGrid: percentTicks,
    xTicks: sampleTicks, yTicks: percentTicks,
    xFormat: d3.format("d"), yFormat: d3.format("d"),
    xFont: 23.5, yFont: 23.5, axisGap: 7,
    title: "Quartile Classification", titleX: 1826,
    xLabel: "Number of Urine Samples", yLabel: "Percentage of Individuals Correctly Classified", yLabelX: 1226,
    draw: area => drawRedSeries(area, x, y, quartileValues)
  });
}

// ---------- Temporal variation ----------
{
  const box = { l: 204, r: 1147, t: 2182, b: 2706 };
  const x = d3.scaleLinear().domain([1.52, 61.97]).range([box.l, box.r]);
  const y = d3.scaleLog().domain([1.5e-6, 0.052]).range([box.b, box.t]);
  const yAll = y.ticks();
  drawChart({
    box, x, y, gridColor: "#d2d2d2",
    xGrid: dayTicks, yGrid: yAll,
    xTicks: dayTicks, yTicks: yAll,
    xFormat: d3.format("d"),
    yFormat: v => concentrationLabels.some(u => Math.abs(u - v) / u < 1e-6) ? commaFmt(v) : "",
    xFont: 23.5, yFont: 17.5, axisGap: 7,
    title: "Urinary Levels (for One Individual)", titleX: 668,
    xLabel: "Time (days)", yLabel: "Urinary Concentration", yLabelX: 75,
    draw: area => {
      area.append("path").datum(urineSamples)
        .attr("d", d3.line().curve(d3.curveStepAfter).x(d => x(d[0])).y(d => y(d[1])))
        .attr("fill", "none").attr("stroke", "#1414ff").attr("stroke-width", 2.2);
    }
  });
}
{
  const box = { l: 1304, r: 2294, t: 2181, b: 2706 };
  const x = d3.scaleLinear().domain([-0.22, 61.9]).range([box.l, box.r]);
  const y = d3.scaleLinear().domain([0, 21.75]).range([box.b, box.t]);
  drawChart({
    box, x, y, gridColor: "#e2e2e2",
    xGrid: dayTicksFromZero, yGrid: exposureTicks,
    xTicks: dayTicksFromZero, yTicks: exposureTicks,
    xFormat: d3.format("d"), yFormat: d3.format("d"),
    xFont: 23.5, yFont: 23.5, axisGap: 7,
    title: "Exposure level (for One Individual)", titleX: 1826,
    xLabel: "Time (days)", yLabel: "Exposure Level", yLabelX: 1226,
    draw: area => {
      const pts = exposureSteps.concat([[exposureEnd, exposureSteps[exposureSteps.length - 1][1]]]);
      area.append("line").attr("x1", box.l).attr("x2", box.r).attr("y1", y(0)).attr("y2", y(0))
        .attr("stroke", "#6a6ab4").attr("stroke-width", 3);
      area.append("path").datum(pts)
        .attr("d", d3.line().curve(d3.curveStepAfter).x(d => x(d[0])).y(d => y(d[1])))
        .attr("fill", "none").attr("stroke", "#0000ff").attr("stroke-width", 3);
    }
  });
}
</script>
</body>
</html>
